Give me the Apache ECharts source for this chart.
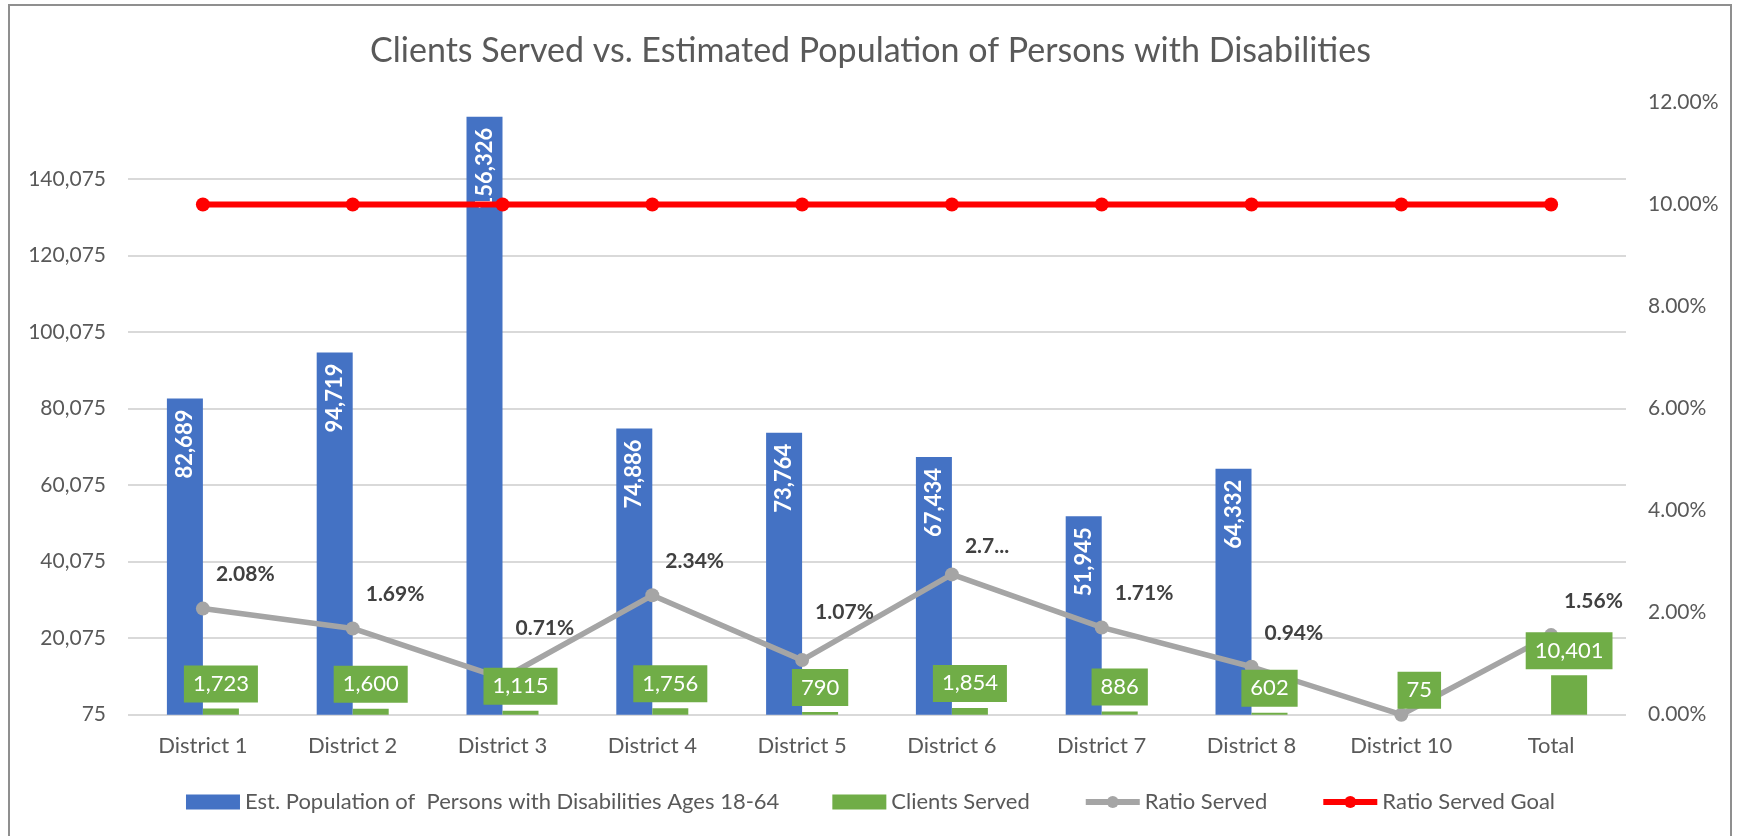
<!DOCTYPE html>
<html>
<head>
<meta charset="utf-8">
<script src="https://cdn.jsdelivr.net/npm/echarts@6/dist/echarts.min.js"></script>
<style>
  html, body { margin: 0; padding: 0; background: #fff; }
  #frame { position: absolute; left: 8px; top: 4px; width: 1724px; height: 900px; border: 2px solid #8f8f8f; box-sizing: border-box; }
  #chart { position: absolute; left: 0; top: 0; width: 1741px; height: 836px; }
</style>
</head>
<body>
<div id="frame"></div>
<div id="chart"></div>
<script>
const categories = ['District 1', 'District 2', 'District 3', 'District 4', 'District 5',
                    'District 6', 'District 7', 'District 8', 'District 10', 'Total']
const population = [82689, 94719, 156326, 74886, 73764, 67434, 51945, 64332, null, null]
const clientsServed = [1723, 1600, 1115, 1756, 790, 1854, 886, 602, 75, 10401]
const ratioServed = [0.0208, 0.0169, 0.0071, 0.0234, 0.0107, 0.0275, 0.0171, 0.0094, 0, 0.0156]
const ratioGoal = [0.10, 0.10, 0.10, 0.10, 0.10, 0.10, 0.10, 0.10, 0.10, 0.10]
// left axis runs 75 .. 160,075 in steps of 20,000, right axis 0 .. 12%
const countTicks = [75, 160075, 20000]
const pctTicks = [0, 0.12, 0.02]

const font = 'Lato, "Open Sans", sans-serif'
const axisGrey = '#595959'
const fmtNum = v => Number(v).toLocaleString('en-US')
const fmtPct = v => (v * 100).toFixed(2) + '%'

// the ratio labels were dragged around by hand in the original, these are the extra lifts
const ratioLabelLift = [0, 0, 16, 0, 14, -6, 0, 0, 0, 0]

const ratioData = ratioServed.map((v, i) => {
    const item = { value: v, label: { offset: [0, -34 - ratioLabelLift[i]] } }
    if (v === 0) item.label.show = false
    // Excel cut this one short in the original
    if (categories[i] === 'District 6') {
        Object.assign(item.label, { width: 50, overflow: 'truncate', ellipsis: '...' })
    }
    return item
})

const chart = echarts.init(document.getElementById('chart'))
chart.setOption({
    animation: false,
    textStyle: { fontFamily: font },
    title: {
        text: 'Clients Served vs. Estimated Population of Persons with Disabilities',
        left: 'center',
        top: 29,
        textStyle: { fontFamily: font, fontSize: 34, fontWeight: 'normal', color: '#595959' }
    },
    legend: {
        left: 'center',
        top: 786,
        itemWidth: 54,
        itemHeight: 15,
        itemGap: 53,
        textStyle: { fontFamily: font, fontSize: 22, color: axisGrey },
        data: [
            { name: 'Est. Population of  Persons with Disabilities Ages 18-64', icon: 'rect' },
            { name: 'Clients Served', icon: 'rect' },
            { name: 'Ratio Served', lineStyle: { width: 6 } },
            { name: 'Ratio Served Goal', lineStyle: { width: 6 } }
        ]
    },
    grid: { left: 128, right: 115, top: 102.5, bottom: 121.3 },
    xAxis: {
        type: 'category',
        data: categories,
        axisLine: { show: false },
        axisTick: { show: false },
        axisLabel: { color: axisGrey, fontSize: 22, fontFamily: font, margin: 20, interval: 0 }
    },
    yAxis: [{
        type: 'value',
        min: countTicks[0],
        max: countTicks[1],
        interval: countTicks[2],
        axisLine: { show: false },
        axisTick: { show: false },
        axisLabel: { color: axisGrey, fontSize: 21, fontFamily: font, margin: 22, showMaxLabel: false, formatter: fmtNum },
        splitLine: { showMaxLine: false, lineStyle: { color: '#d9d9d9', width: 2 } }
    }, {
        type: 'value',
        min: pctTicks[0],
        max: pctTicks[1],
        interval: pctTicks[2],
        axisLine: { show: false },
        axisTick: { show: false },
        splitLine: { show: false },
        axisLabel: { color: axisGrey, fontSize: 21, fontFamily: font, margin: 22, formatter: fmtPct }
    }],
    series: [{
        name: 'Est. Population of  Persons with Disabilities Ages 18-64',
        type: 'bar',
        data: population,
        barWidth: 36,
        barGap: '0%',
        itemStyle: { color: '#4472c4' },
        z: 2,
        label: {
            show: true,
            position: 'insideTop',
            distance: 11,
            rotate: 90,
            align: 'right',
            verticalAlign: 'middle',
            color: '#fff',
            fontWeight: 'bold',
            fontSize: 22,
            fontFamily: font,
            formatter: p => fmtNum(p.value)
        }
    }, {
        name: 'Clients Served',
        type: 'bar',
        data: clientsServed,
        barWidth: 36,
        itemStyle: { color: '#70ad47' },
        z: 6,
        label: {
            show: true,
            position: 'top',
            distance: 6,
            color: '#fff',
            fontSize: 22,
            fontFamily: font,
            backgroundColor: '#70ad47',
            padding: [8, 9, 8, 9],
            lineHeight: 21,
            formatter: p => fmtNum(p.value)
        }
    }, {
        name: 'Ratio Served',
        type: 'line',
        yAxisIndex: 1,
        data: ratioData,
        symbol: 'circle',
        symbolSize: 14,
        z: 4,
        itemStyle: { color: '#a5a5a5' },
        lineStyle: { color: '#a5a5a5', width: 5.5 },
        label: {
            show: true,
            position: 'right',
            distance: 6,
            color: '#404040',
            fontWeight: 'bold',
            fontSize: 21,
            fontFamily: font,
            formatter: p => fmtPct(p.value)
        }
    }, {
        name: 'Ratio Served Goal',
        type: 'line',
        yAxisIndex: 1,
        data: ratioGoal,
        symbol: 'circle',
        symbolSize: 14,
        z: 5,
        itemStyle: { color: '#ff0000' },
        lineStyle: { color: '#ff0000', width: 6 }
    }]
})
</script>
</body>
</html>
